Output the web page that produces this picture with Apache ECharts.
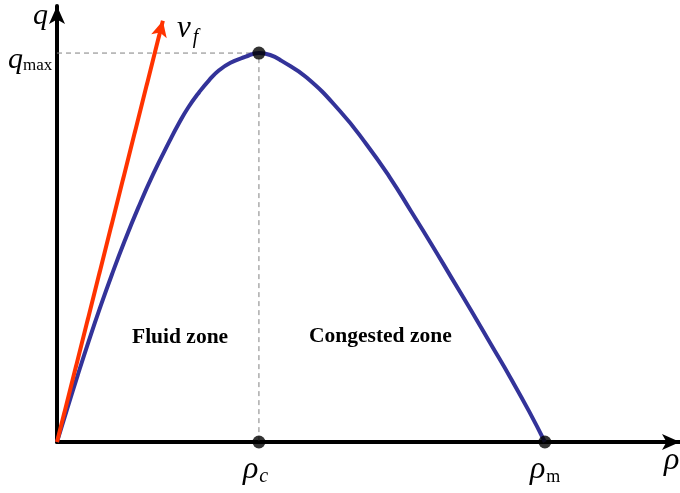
<!DOCTYPE html>
<html lang="en">
<head>
    <meta charset="UTF-8">
    <title>q-rho diagram</title>
    <script type="text/javascript" src="https://cdn.jsdelivr.net/npm/echarts@6/dist/echarts.min.js"></script>
    <style>
        html, body { margin: 0; padding: 0; background: #fff; }
    </style>
</head>
<body>
<div id="main" style="width:680px;height:493px;"></div>
<script type="text/javascript">
    // density (normalised to rho_m = 1) and flow (normalised to q_max = 1)
    var rho = [0, 0.021, 0.0425, 0.0647, 0.0879, 0.1124, 0.1384, 0.1664, 0.1969, 0.2309,
               0.2502, 0.2690, 0.2918, 0.3116, 0.3316, 0.3556, 0.3856, 0.4139,
               0.437, 0.4605, 0.5117, 0.5799, 0.6346, 0.6824, 0.7254, 0.7678, 0.8088, 0.8498,
               0.8900, 0.9300, 0.9680, 1.0];
    var flow = [0, 0.086, 0.172, 0.258, 0.344, 0.430, 0.516, 0.602, 0.688, 0.774,
                0.820, 0.860, 0.900, 0.930, 0.955, 0.975, 0.990, 1.0,
                0.995, 0.980, 0.937, 0.851, 0.765, 0.680, 0.594, 0.508, 0.422, 0.336,
                0.250, 0.164, 0.078, 0];
    var rhoC = 0.4139;
    var rhoM = 1.0;
    var qMax = 1.0;
    // free-flow speed arrow end point
    var vfEnd = [0.217, 1.083];

    var curve = [];
    for (var i = 0; i < rho.length; i++) {
        curve.push([rho[i], flow[i]]);
    }

    var serif = '"Liberation Serif", "DejaVu Serif", serif';
    var myChart = echarts.init(document.getElementById('main'));
    var option = {
        animation: false,
        backgroundColor: '#fff',
        grid: { left: 57, right: 0, top: 6, bottom: 51 },
        xAxis: {
            type: 'value', min: 0, max: 1.277,
            axisLine: { show: true, symbol: ['none', 'arrow'], symbolSize: [12, 18],
                lineStyle: { color: '#000', width: 4 } },
            axisTick: { show: false }, axisLabel: { show: false }, splitLine: { show: false }
        },
        yAxis: {
            type: 'value', min: 0, max: 1.121,
            axisLine: { show: true, symbol: ['none', 'arrow'], symbolSize: [12, 18],
                lineStyle: { color: '#000', width: 4 } },
            axisTick: { show: false }, axisLabel: { show: false }, splitLine: { show: false }
        },
        series: [
            {
                // dashed guides to the critical point
                type: 'line',
                data: [[0, qMax], [rhoC, qMax], [rhoC, 0]],
                symbol: 'none',
                lineStyle: { color: '#808080', width: 1, type: [5, 4] },
                z: 1
            },
            {
                type: 'line',
                data: curve,
                smooth: 0.5,
                symbol: 'none',
                lineStyle: { color: '#333399', width: 4 },
                z: 3
            },
            {
                type: 'line',
                data: [],
                markLine: {
                    silent: true,
                    symbol: ['none', 'arrow'],
                    symbolSize: [12, 16],
                    label: { show: false },
                    lineStyle: { color: '#ff3300', width: 4, type: 'solid' },
                    data: [[{ coord: [0, 0] }, { coord: vfEnd }]]
                },
                z: 4
            },
            {
                type: 'scatter',
                data: [[rhoC, qMax], [rhoC, 0], [rhoM, 0]],
                symbolSize: 13,
                itemStyle: { color: '#000' },
                z: 5
            }
        ],
        graphic: [
            { type: 'text', left: 33, top: 1, z: 10,
              style: { text: 'q', font: 'italic 30px ' + serif, fill: '#000' } },
            { type: 'text', left: 8, top: 45, z: 10,
              style: { text: '{a|q}{b|max}', fill: '#000',
                  rich: { a: { font: 'italic 30px ' + serif, fill: '#000' },
                          b: { font: '17px ' + serif, fill: '#000', padding: [12, 0, 0, 0] } } } },
            { type: 'text', left: 177, top: 13, z: 10,
              style: { text: '{a|v}{b|f}', fill: '#000',
                  rich: { a: { font: 'italic 31px ' + serif, fill: '#000' },
                          b: { font: 'italic 20px ' + serif, fill: '#000', padding: [18, 0, 0, 2] } } } },
            { type: 'text', left: 243, top: 454, z: 10,
              style: { text: '{a|\u03c1}{b|c}', fill: '#000',
                  rich: { a: { font: 'italic 32px ' + serif, fill: '#000' },
                          b: { font: 'italic 20px ' + serif, fill: '#000', padding: [14, 0, 0, 1] } } } },
            { type: 'text', left: 530, top: 454, z: 10,
              style: { text: '{a|\u03c1}{b|m}', fill: '#000',
                  rich: { a: { font: 'italic 32px ' + serif, fill: '#000' },
                          b: { font: '18px ' + serif, fill: '#000', padding: [14, 0, 0, 1] } } } },
            { type: 'text', left: 664, top: 445, z: 10,
              style: { text: '\u03c1', font: 'italic 32px ' + serif, fill: '#000' } },
            { type: 'text', left: 132, top: 326, z: 10,
              style: { text: 'Fluid zone', font: 'bold 21.5px ' + serif, fill: '#000' } },
            { type: 'text', left: 309, top: 325, z: 10,
              style: { text: 'Congested zone', font: 'bold 21.5px ' + serif, fill: '#000' } }
        ]
    };
    myChart.setOption(option);
</script>
</body>
</html>
